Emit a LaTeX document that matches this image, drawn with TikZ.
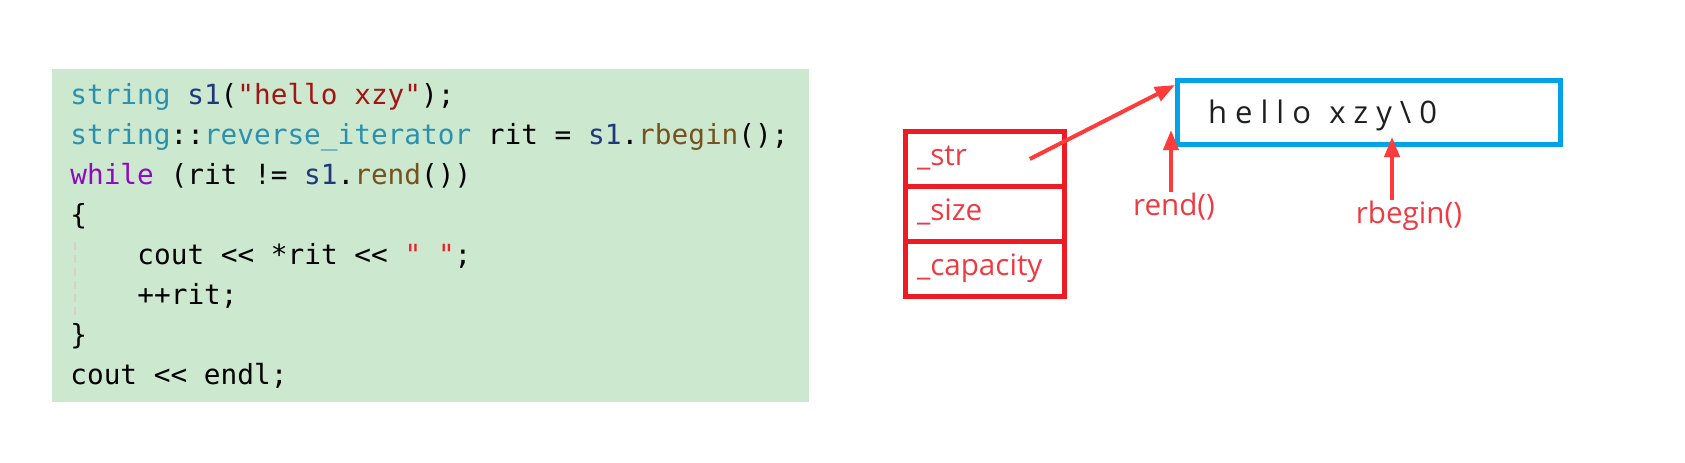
\documentclass[tikz,border=0pt]{standalone}
\usepackage{fontspec}
\setmonofont{DejaVu Sans Mono}
\newfontfamily\labelfont{Open Sans}
\newfontfamily\hellofont{Open Sans}[LetterSpace=26.0]
\usetikzlibrary{positioning,arrows.meta}

\definecolor{codebg}{HTML}{CCE8CF}
\definecolor{ctype}{HTML}{2B91AF}
\definecolor{cvar}{HTML}{1F377F}
\definecolor{cstr}{HTML}{A31515}
\definecolor{cstrb}{HTML}{E8232B}
\definecolor{cfunc}{HTML}{74531F}
\definecolor{ckey}{HTML}{8F08C4}
\definecolor{guidegray}{HTML}{D8CFCF}
\definecolor{boxred}{HTML}{ED1C24}
\definecolor{lblred}{HTML}{EE3A42}
\definecolor{arrowred}{HTML}{FF3B3B}
\definecolor{bufblue}{HTML}{00A2E8}

\begin{document}
\begin{tikzpicture}[x=0.5pt, y=-0.5pt,
    codebox/.style={fill=codebg, inner sep=0pt, outer sep=0pt, anchor=north west},
    codeline/.style={anchor=base west, inner sep=0pt, font=\ttfamily\fontsize{13.87pt}{20pt}\selectfont},
    field/.style={draw=boxred, line width=2.5pt, outer sep=0pt, inner xsep=6pt, inner ysep=0pt,
        text width=67.75pt, minimum height=27.5pt, align=left, text height=10pt, text depth=3.5pt,
        text=lblred, font=\labelfont\fontsize{14.8pt}{17pt}\selectfont},
    bufbox/.style={draw=bufblue, line width=2.5pt, outer sep=0pt, inner xsep=15.25pt, inner ysep=0pt,
        text width=161pt, minimum height=32pt, align=left, text height=12pt, text depth=1.5pt,
        text=black!88, font=\hellofont\fontsize{15.5pt}{19pt}\selectfont},
    lbl/.style={text=lblred, inner sep=0pt, anchor=base, font=\labelfont\fontsize{14.8pt}{17pt}\selectfont},
    ptr/.style={draw=arrowred, line width=2pt, -{Triangle[length=10pt, width=7.5pt]}},
    guide/.style={draw=guidegray, line width=1pt, dash pattern=on 4pt off 2.5pt}]

\useasboundingbox (0,0) rectangle (1685,462);

% code
\node[codebox, minimum width=378.5pt, minimum height=166.5pt] (code) at (52,69) {};
\node[codeline] (c1) at (70,104.5) {\textcolor{ctype}{string} \textcolor{cvar}{s1}(\textcolor{cstr}{"hello xzy"});};
\node[codeline] (c2) at (70,144.5) {\textcolor{ctype}{string}::\textcolor{ctype}{reverse\_iterator} rit = \textcolor{cvar}{s1}.\textcolor{cfunc}{rbegin}();};
\node[codeline] (c3) at (70,184.5) {\textcolor{ckey}{while} (rit != \textcolor{cvar}{s1}.\textcolor{cfunc}{rend}())};
\node[codeline] (c4) at (70,224.5) {\{};
\node[codeline] (c5) at (137,264.5) {cout <{}< *rit <{}< \textcolor{cstrb}{" "};};
\node[codeline] (c6) at (137,304.5) {++rit;};
\node[codeline] (c7) at (70,344.5) {\}};
\node[codeline] (c8) at (70,384.5) {cout <{}< endl;};
\draw[guide] (75,242) -- (75,317);

% string object
\node[field] (str) at (984.75,159) {\_str};
\node[field, below=0pt of str] (size) {\_size};
\node[field, below=0pt of size] (cap) {\_capacity};

% buffer
\node[bufbox] (buf) at (1369,112.5) {hello\hspace{4pt} xzy\textbackslash0};

\node[lbl] (rendlbl) at (1174,215) {rend()};
\node[lbl] (rbeginlbl) at (1409,223) {rbegin()};

\coordinate (strtail) at ([xshift=22.5pt]str.center);
\coordinate (strtip) at ([shift={(-2.5,4.5)}]buf.north west);
\coordinate (rendtip) at ([shift={(-6.5,-14.5)}]buf.south west);
\coordinate (rbegintip) at ([shift={(23,-7.5)}]buf.south);

\draw[ptr] (strtail) -- (strtip);
\draw[ptr] ([xshift=-1.5pt]rendlbl.north) -- (rendtip);
\draw[ptr] ([xshift=-8.5pt]rbeginlbl.north) -- (rbegintip);
\end{tikzpicture}
\end{document}
